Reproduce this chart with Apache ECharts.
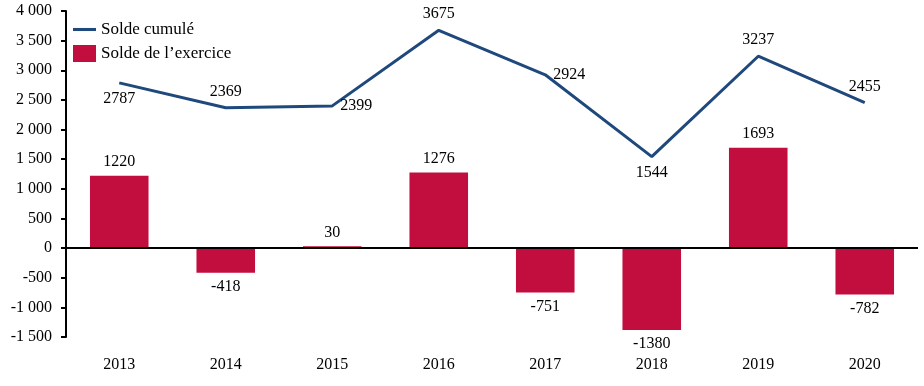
<!DOCTYPE html>
<html><head><meta charset="utf-8">
<script src="https://cdn.jsdelivr.net/npm/echarts@6/dist/echarts.min.js"></script>
<style>html,body{margin:0;padding:0;background:#fff}#c{width:924px;height:386px}</style>
</head><body><div id="c"></div>
<script>
const categories = ['2013','2014','2015','2016','2017','2018','2019','2020'];
const soldeCumule = [2787, 2369, 2399, 3675, 2924, 1544, 3237, 2455];
const soldeExercice = [1220, -418, 30, 1276, -751, -1380, 1693, -782];
const cumulLabelPos = ['bottom','top','right','top','right','bottom','top','top'];

const FONT = '"Liberation Serif", "DejaVu Serif", serif';
const fmt = v => {
  const s = Math.abs(v).toString();
  const t = s.length > 3 ? s.slice(0, s.length - 3) + ' ' + s.slice(-3) : s;
  return (v < 0 ? '-' : '') + t;
};

const chart = echarts.init(document.getElementById('c'));
chart.setOption({
  animation: false,
  textStyle: { fontFamily: FONT, color: '#000' },
  grid: { left: 66, right: 6, top: 11, bottom: 49 },
  legend: {
    orient: 'vertical', left: 68, top: 16, itemWidth: 23, itemHeight: 17, itemGap: 7,
    textStyle: { fontFamily: FONT, fontSize: 17, color: '#000' },
    data: [
      { name: 'Solde cumulé', icon: 'path://M0,0H30V4H0Z' },
      { name: 'Solde de l’exercice', icon: 'rect' }
    ]
  },
  xAxis: {
    type: 'category', data: categories,
    axisLine: { show: false }, axisTick: { show: false },
    axisLabel: { fontFamily: FONT, fontSize: 16, color: '#000', margin: 20 }
  },
  yAxis: {
    type: 'value', min: -1500, max: 4000, interval: 500,
    splitLine: { show: false },
    axisLine: { show: true, lineStyle: { color: '#000', width: 2 } },
    axisTick: { show: true, length: 5, lineStyle: { color: '#000', width: 2 } },
    axisLabel: { fontFamily: FONT, fontSize: 16, color: '#000', margin: 14, formatter: fmt }
  },
  series: [
    {
      name: 'Solde de l’exercice', type: 'bar', barWidth: '55%',
      itemStyle: { color: '#C20E3E' },
      data: soldeExercice.map(v => ({ value: v, label: { position: v >= 0 ? 'top' : 'bottom' } })),
      label: { show: true, fontFamily: FONT, fontSize: 16, color: '#000', distance: 6 },
      markLine: {
        silent: true, symbol: 'none', label: { show: false },
        lineStyle: { color: '#000', width: 2, type: 'solid' },
        data: [{ yAxis: 0 }]
      },
      z: 2
    },
    {
      name: 'Solde cumulé', type: 'line', symbol: 'circle', symbolSize: 0.01, showSymbol: true,
      lineStyle: { color: '#1F497D', width: 3 },
      itemStyle: { color: '#1F497D' },
      data: soldeCumule.map((v, i) => ({ value: v, label: { position: cumulLabelPos[i] } })),
      label: { show: true, fontFamily: FONT, fontSize: 16, color: '#000', distance: 8 },
      z: 3
    }
  ]
});
</script></body></html>
